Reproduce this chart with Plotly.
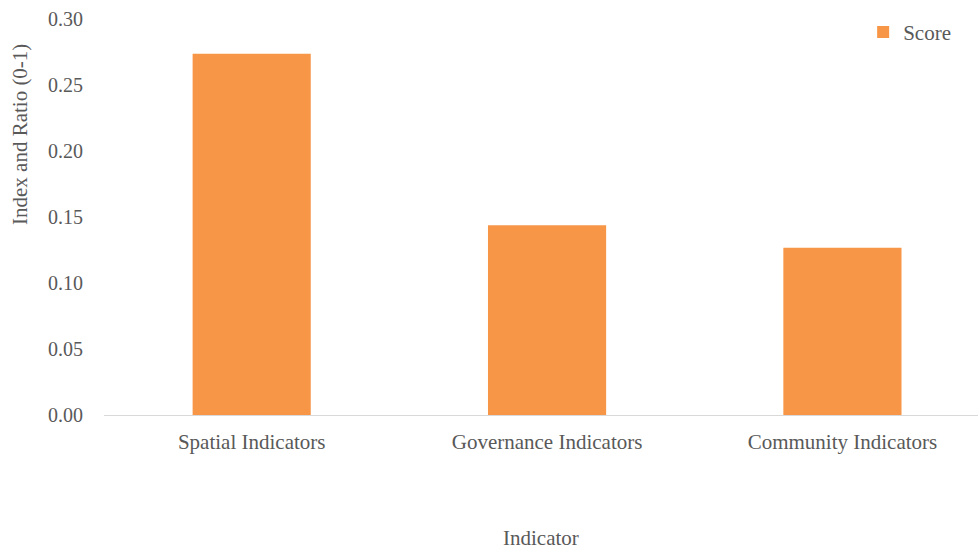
import plotly.graph_objects as go

categories = ["Spatial Indicators", "Governance Indicators", "Community Indicators"]
scores = [0.2737, 0.1437, 0.1267]
y_ticks = [0.00, 0.05, 0.10, 0.15, 0.20, 0.25, 0.30]

font_family = "Liberation Serif"
gray = "#595959"
orange = "#F79646"

fig = go.Figure()
fig.add_trace(go.Bar(x=categories, y=scores, name="Score", marker_color=orange,
                     marker_line_width=0))

fig.update_layout(
    width=978, height=549,
    margin=dict(l=104, r=0, t=19, b=134),
    paper_bgcolor="white", plot_bgcolor="white",
    bargap=0.6,
    showlegend=True,
    legend=dict(x=0.975, xanchor="right", y=1.018, yanchor="top",
                font=dict(family=font_family, size=21, color=gray),
                bgcolor="rgba(0,0,0,0)", itemwidth=30),
    font=dict(family=font_family, size=21, color=gray),
    xaxis=dict(range=[-0.5, 2.459], showgrid=False, showline=True, linecolor="#d9d9d9",
               linewidth=1, ticks="", tickfont=dict(family=font_family, size=21, color=gray),
               ticklabelstandoff=8),
    yaxis=dict(range=[0, 0.30], tickvals=y_ticks, ticktext=[f"{v:.2f}" for v in y_ticks],
               showgrid=False, zeroline=False, showline=False, ticks="",
               tickfont=dict(family=font_family, size=20, color=gray), ticklabelstandoff=20),
    annotations=[
        dict(text="Indicator", xref="paper", yref="paper", x=0.5, y=(415 - 538) / 396,
             xanchor="center", yanchor="middle", showarrow=False,
             font=dict(family=font_family, size=21, color=gray)),
        dict(text="Index and Ratio (0-1)", xref="paper", yref="paper",
             x=(20 - 104) / 874, y=(415 - 135) / 396, textangle=-90,
             xanchor="center", yanchor="middle", showarrow=False,
             font=dict(family=font_family, size=21, color=gray)),
    ],
)

fig.write_html("out.html")
